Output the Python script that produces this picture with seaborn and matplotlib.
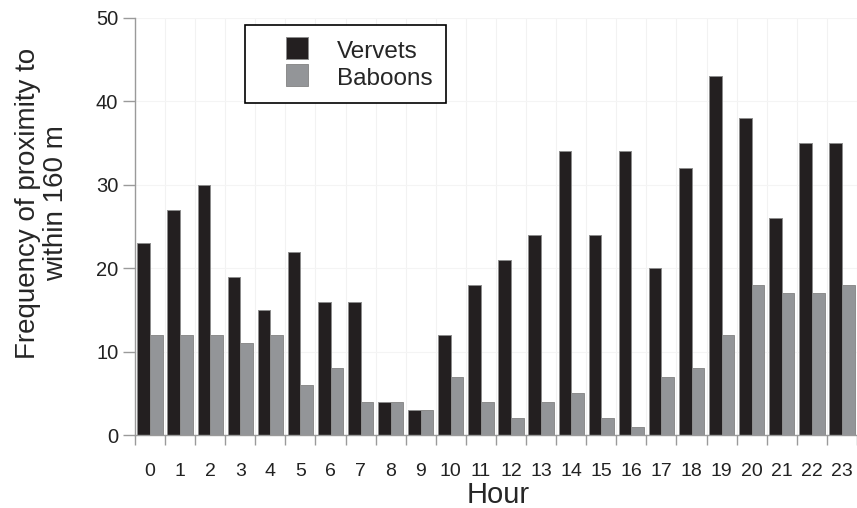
import numpy as np
import pandas as pd
import matplotlib
matplotlib.use("Agg")
import matplotlib.pyplot as plt
from matplotlib.lines import Line2D
import seaborn as sns

# data
hours = list(range(24))
vervets = [23, 27, 30, 19, 15, 22, 16, 16, 4, 3, 12, 18, 21, 24, 34, 24, 34, 20, 32, 43, 38, 26, 35, 35]
baboons = [12, 12, 12, 11, 12, 6, 8, 4, 4, 3, 7, 4, 2, 4, 5, 2, 1, 7, 8, 12, 18, 17, 17, 18]
species = ["Vervets", "Baboons"]
colors = ["#231f20", "#939598"]
y_ticks = [0, 10, 20, 30, 40, 50]

df = pd.DataFrame({
    "hour": hours * 2,
    "count": vervets + baboons,
    "species": [species[0]] * len(hours) + [species[1]] * len(hours),
})

sns.set_theme(style="white")
plt.rcParams['font.family'] = ['Liberation Sans', 'DejaVu Sans']

fig = plt.figure(figsize=(8.57, 5.08), dpi=100)
ax = fig.add_axes([0.1575, 0.1437, 0.8425, 0.8209])

sns.barplot(data=df, x="hour", y="count", hue="species", hue_order=species,
            palette=colors, width=0.84, edgecolor="#8c8c8c", linewidth=0.7,
            saturation=1, legend=False, ax=ax)

ax.set_xlim(-0.5, 23.5)
ax.set_ylim(0, 50)
ax.set_yticks(y_ticks)

# ticks at category boundaries, labels at centres
ax.set_xticks(np.arange(-0.5, 24, 1), minor=True)
ax.set_xticks(hours)
ax.set_xticklabels([str(h) for h in hours], fontsize=14)
ax.set_yticklabels([str(v) for v in y_ticks], fontsize=14.5)
ax.grid(which="minor", axis="x", color="#f2f2f2", linewidth=0.8)
ax.grid(which="major", axis="y", color="#f4f4f4", linewidth=0.8)
ax.set_axisbelow(True)

ax.tick_params(axis="x", which="major", length=0, pad=20, colors="#222222")
ax.tick_params(axis="x", which="minor", length=7.5, width=1, color="#9a9a9a", direction="out", bottom=True)
ax.tick_params(axis="y", which="major", length=8.5, width=1, color="#9a9a9a", direction="out", left=True, pad=3.5, labelcolor="#222222")

for s in ["top", "right"]:
    ax.spines[s].set_visible(False)
for s in ["left", "bottom"]:
    ax.spines[s].set_color("#9a9a9a")
    ax.spines[s].set_linewidth(1)

ax.set_xlabel("Hour", fontsize=21)
ax.xaxis.set_label_coords(0.503, -0.144)
ax.xaxis.label.set_va("center")

ax.set_ylabel("Frequency of proximity to\nwithin 160 m", fontsize=20, linespacing=1.1)
ax.yaxis.set_label_coords(-0.129, 0.555)
ax.yaxis.label.set_va("center")

handles = [Line2D([], [], marker="s", linestyle="none", markersize=15.8,
                  markerfacecolor=c, markeredgecolor="#8c8c8c", markeredgewidth=0.7)
           for c in colors]
leg = ax.legend(handles, species, loc="upper left", bbox_to_anchor=(0.152, 0.983),
                borderaxespad=0, frameon=True, fancybox=False, edgecolor="black",
                framealpha=1, handlelength=3.2, handleheight=1.0, handletextpad=0.05,
                labelspacing=0.12, borderpad=0.55, prop={"size": 17.5})
leg.get_frame().set_linewidth(1.2)

plt.savefig("out.png", dpi=100)
